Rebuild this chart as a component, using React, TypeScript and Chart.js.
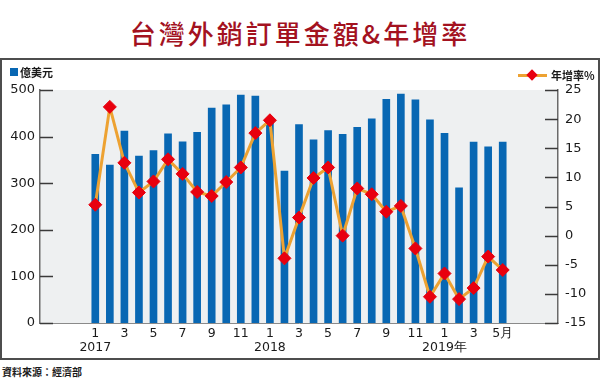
import React, { useEffect, useRef } from 'react';
import { Chart, registerables } from 'chart.js';

Chart.register(...registerables);

// 2017-01 .. 2019-05
const monthLabels = ['1','2','3','4','5','6','7','8','9','10','11','12','1','2','3','4','5','6','7','8','9','10','11','12','1','2','3','4','5月'];
const yearLabels = ['2017','','','','','','','','','','','','2018','','','','','','','','','','','','2019年','','','',''];
const orderValues = [362,339,412,358,370,406,389,409,461,468,489,487,434,326,426,393,413,405,420,438,480,491,479,436,407,290,388,378,388];
const growthRates = [5.3,22.1,12.5,7.4,9.3,13.1,10.6,7.5,6.8,9.2,11.7,17.6,19.8,-3.9,3.1,9.9,11.7,0,8.1,7.1,4.1,5.1,-2.2,-10.5,-6.5,-10.9,-9.0,-3.6,-5.9];
const leftAxis = { min: 0, max: 500, step: 100 };
const rightAxis = { min: -15, max: 25, step: 5 };
const xRange = { min: -3.8, max: 31.8 };

const BAR_COLOR = '#0867b3';
const LINE_COLOR = '#eda232';
const POINT_COLOR = '#e8000e';
const TICK_FONT = { family: '"DejaVu Sans", sans-serif', size: 13 };

const framePlugin = {
  id: 'framePlugin',
  beforeDraw(chart: any) {
    const { ctx, chartArea: a } = chart;
    ctx.save();
    ctx.fillStyle = '#eef0f1';
    ctx.fillRect(a.left, a.top, a.right - a.left, a.bottom - a.top);
    ctx.restore();
  },
  beforeDatasetsDraw(chart: any) {
    const { ctx, chartArea: a } = chart;
    const yl = chart.scales.y;
    const yr = chart.scales.y1;
    ctx.save();
    ctx.strokeStyle = '#3a3a3a';
    ctx.lineWidth = 1.5;
    yl.ticks.forEach((t: any) => {
      const py = Math.round(yl.getPixelForValue(t.value)) + 0.5;
      ctx.beginPath();
      ctx.moveTo(a.left, py);
      ctx.lineTo(a.left + 13, py);
      ctx.stroke();
    });
    yr.ticks.forEach((t: any) => {
      const py = Math.round(yr.getPixelForValue(t.value)) + 0.5;
      ctx.beginPath();
      ctx.moveTo(a.right - 13, py);
      ctx.lineTo(a.right, py);
      ctx.stroke();
    });
    ctx.restore();
  },
};

export default function App() {
  const ref = useRef<HTMLCanvasElement | null>(null);

  useEffect(() => {
    if (!ref.current) return;
    const chart = new Chart(ref.current, {
      type: 'bar',
      data: {
        datasets: [
          {
            type: 'line',
            label: '年增率%',
            data: growthRates.map((v, i) => ({ x: i, y: v })),
            yAxisID: 'y1',
            borderColor: LINE_COLOR,
            borderWidth: 3,
            tension: 0,
            pointStyle: 'rectRot',
            pointRadius: 6.5,
            pointBackgroundColor: POINT_COLOR,
            pointBorderColor: POINT_COLOR,
            pointBorderWidth: 1,
            order: 0,
          } as any,
          {
            type: 'bar',
            label: '億美元',
            data: orderValues.map((v, i) => ({ x: i, y: v })),
            yAxisID: 'y',
            backgroundColor: BAR_COLOR,
            barThickness: 7,
            order: 1,
          } as any,
        ],
      },
      options: {
        responsive: false,
        devicePixelRatio: 1,
        animation: false,
        layout: { padding: { top: 30, left: 0, right: 0, bottom: 0 } },
        plugins: { legend: { display: false }, tooltip: { enabled: false }, title: { display: false } },
        scales: {
          x: {
            type: 'linear',
            min: xRange.min,
            max: xRange.max,
            offset: false,
            grid: { display: false, drawTicks: false, offset: false },
            border: { display: true, color: '#8a8a8a', width: 1 },
            ticks: {
              stepSize: 1,
              autoSkip: false,
              maxRotation: 0,
              minRotation: 0,
              padding: 4,
              color: '#1a1a1a',
              font: { family: '"DejaVu Sans", sans-serif', size: 12.5, lineHeight: 1.1 },
              callback: (value: any) => {
                const v = Number(value);
                if (!Number.isInteger(v) || v < 0 || v >= monthLabels.length || v % 2 !== 0) return '';
                return yearLabels[v] ? [monthLabels[v], yearLabels[v]] : [monthLabels[v]];
              },
            },
            afterFit: (scale: any) => { scale.height = 35; },
          } as any,
          y: {
            type: 'linear',
            position: 'left',
            min: leftAxis.min,
            max: leftAxis.max,
            grid: { display: false, drawTicks: false },
            border: { display: true, color: '#6a6a6a', width: 1.5 },
            ticks: { stepSize: leftAxis.step, padding: 5, color: '#1a1a1a', font: TICK_FONT },
            afterFit: (scale: any) => { scale.width = 38; },
          } as any,
          y1: {
            type: 'linear',
            position: 'right',
            min: rightAxis.min,
            max: rightAxis.max,
            grid: { display: false, drawTicks: false },
            border: { display: true, color: '#6a6a6a', width: 1.5 },
            ticks: { stepSize: rightAxis.step, padding: 7, color: '#1a1a1a', font: TICK_FONT },
            afterFit: (scale: any) => { scale.width = 40; },
          } as any,
        },
      },
      plugins: [framePlugin],
    });
    return () => chart.destroy();
  }, []);

  const cjk = '"Noto Sans CJK TC", "Noto Sans CJK SC", sans-serif';

  return (
    <div style={{ position: 'absolute', left: 0, top: 0, width: 600, height: 382, background: '#fff', overflow: 'hidden' }}>
      <div
        style={{
          position: 'absolute', left: 0, top: 14, width: 600, textAlign: 'center',
          fontFamily: cjk, fontSize: 26, lineHeight: '38px', fontWeight: 500, color: '#a3121f', letterSpacing: 3,
        }}
      >
        台灣外銷訂單金額&amp;年增率
      </div>
      <div
        style={{
          position: 'absolute', left: 0, top: 58, width: 600, height: 302, boxSizing: 'border-box',
          border: '2px solid #4d4d4d',
        }}
      />
      <canvas ref={ref} width={596} height={298} style={{ position: 'absolute', left: 2, top: 60, width: 596, height: 298 }} />
      <div style={{ position: 'absolute', left: 10, top: 68, width: 8, height: 8, background: BAR_COLOR }} />
      <div style={{ position: 'absolute', left: 20, top: 64, fontFamily: cjk, fontSize: 11, lineHeight: '16px', fontWeight: 700, color: '#1a1a1a' }}>億美元</div>
      <div style={{ position: 'absolute', left: 518, top: 74, width: 29, height: 3, background: LINE_COLOR }} />
      <div style={{ position: 'absolute', left: 528, top: 71, width: 8, height: 8, background: POINT_COLOR, transform: 'rotate(45deg)' }} />
      <div style={{ position: 'absolute', left: 551, top: 67, fontFamily: cjk, fontSize: 11, lineHeight: '16px', fontWeight: 700, color: '#1a1a1a' }}>年增率%</div>
      <div style={{ position: 'absolute', left: 2, top: 364, fontFamily: cjk, fontSize: 10, lineHeight: '16px', fontWeight: 700, color: '#1a1a1a' }}>資料來源：經濟部</div>
    </div>
  );
}
